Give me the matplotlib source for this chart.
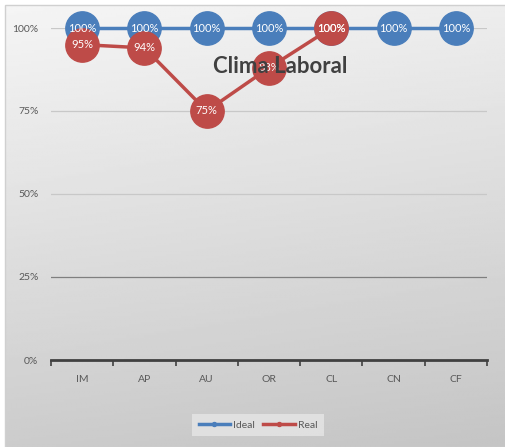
import matplotlib.pyplot as plt
import numpy as np
from matplotlib.patches import Rectangle

categories = ["IM", "AP", "AU", "OR", "CL", "CN", "CF"]
ideal = [1.00, 1.00, 1.00, 1.00, 1.00, 1.00, 1.00]
real = [0.95, 0.94, 0.75, 0.88, 1.00]
yticks = [0, 0.25, 0.5, 0.75, 1.0]
ytick_labels = ["0%", "25%", "50%", "75%", "100%"]

BLUE = "#4a7ebb"
RED = "#be4b48"
TXT = "#595959"
FONT = ["Lato", "DejaVu Sans"]

fig = plt.figure(figsize=(5.05, 4.47), dpi=100)
fig.patch.set_facecolor("white")

# chart-area gradient background
bg = fig.add_axes([5 / 505, 0, 1 - 5 / 505, 1 - 5 / 447], zorder=-10)
yy, xx = np.mgrid[0:1:200j, 0:1:200j]
shade = 0.96 - 0.16 * yy - 0.03 * xx
bg.imshow(shade, cmap="gray", vmin=0, vmax=1, aspect="auto", extent=[0, 1, 1, 0])
bg.set_axis_off()
fig.add_artist(Rectangle((5 / 505, 0), 1, 1 - 5 / 447, transform=fig.transFigure,
                         fill=False, edgecolor="#d0d0d0", lw=1))

ax = fig.add_axes([51 / 505, 1 - 360 / 447, (487 - 51) / 505, (360 - 28) / 447])
ax.set_facecolor("none")
x = np.arange(len(categories))
ax.set_xlim(-0.5, len(categories) - 0.5)
ax.set_ylim(0, 1)

for y in yticks[1:]:
    ax.axhline(y, color="#7f7f7f" if y == 0.25 else "#c8c8c8", lw=0.9, zorder=1)

ax.plot(x, ideal, color=BLUE, lw=2.5, marker="o", ms=24, mec=BLUE, mfc=BLUE,
        clip_on=False, zorder=3, label="Ideal")
ax.plot(x[:len(real)], real, color=RED, lw=2.5, marker="o", ms=24, mec=RED, mfc=RED,
        clip_on=False, zorder=4, label="Real")

for xi, v in zip(x, ideal):
    ax.text(xi, v, f"{v:.0%}", ha="center", va="center", color="white", fontsize=8,
            family=FONT, zorder=5)
for xi, v in zip(x, real):
    ax.text(xi, v, f"{v:.0%}", ha="center", va="center", color="white", fontsize=8,
            family=FONT, zorder=6)

ax.text(0.525, 0.885, "Clima Laboral", transform=ax.transAxes, ha="center", va="center",
        fontsize=16, fontweight="bold", color="#404040", family=FONT, zorder=7)

ax.set_yticks(yticks)
ax.set_yticklabels(ytick_labels, family=FONT, fontsize=7.5, color=TXT)
ax.set_xticks(x)
ax.set_xticklabels(categories, family=FONT, fontsize=7.5, color=TXT)
ax.set_xticks(np.arange(len(categories) + 1) - 0.5, minor=True)
ax.tick_params(axis="y", length=0, pad=9)
ax.tick_params(axis="x", which="major", length=0, pad=11)
ax.tick_params(axis="x", which="minor", length=4, width=1.2, color="#404040", direction="out")
for s in ["top", "right", "left"]:
    ax.spines[s].set_visible(False)
ax.spines["bottom"].set_color("#404040")
ax.spines["bottom"].set_linewidth(2)

leg = fig.legend(loc="center", bbox_to_anchor=(258 / 505, 1 - 425 / 447), ncol=2,
                 frameon=True, fontsize=7.5, prop={"family": FONT, "size": 7.5},
                 handlelength=3, handletextpad=0.3, columnspacing=0.8, markerscale=0.12)
leg.get_frame().set_facecolor("#e6e6e6")
leg.get_frame().set_edgecolor("none")
leg.get_frame().set_boxstyle("square", pad=0.2)
for t in leg.get_texts():
    t.set_color(TXT)

fig.savefig("out.png", dpi=100)
